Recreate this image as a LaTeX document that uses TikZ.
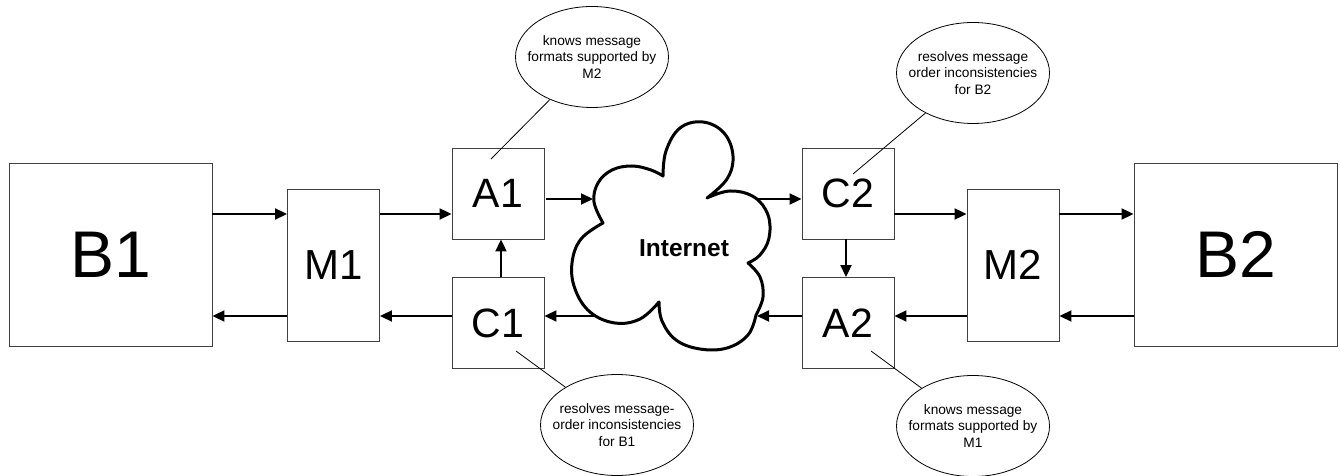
\documentclass[tikz,border=0pt]{standalone}
\usepackage{fontspec}
\setmainfont{Liberation Sans}
\usetikzlibrary{arrows.meta,shapes.geometric}
\begin{document}
\begin{tikzpicture}[x=1pt,y=1pt,
  box/.style={draw=black!75, line width=0.9pt, inner sep=0pt},
  small/.style={box, minimum width=92pt, minimum height=91pt, font=\fontsize{41}{41}\selectfont},
  mid/.style={box, minimum width=92pt, minimum height=152pt, font=\fontsize{42}{42}\selectfont},
  big/.style={box, minimum width=203pt, minimum height=183pt, font=\fontsize{66}{66}\selectfont},
  arr/.style={line width=2pt, -{Triangle[length=12pt,width=11pt]}},
  note/.style={ellipse, draw, line width=0.8pt, minimum width=153pt, minimum height=101pt, inner sep=0pt},
  notetxt/.style={align=center, inner sep=0pt, font=\fontsize{13.7}{16.7}\selectfont},
  lead/.style={line width=0.8pt},
  cloudline/.style={draw, fill=white, line width=3pt, line join=round}]
\useasboundingbox (0,0) rectangle (1340,476);

% boxes
\node[big]   (B1) at (110.5,221.5) {B1};
\node[big]   (B2) at (1235.5,221.5) {B2};
\node[mid]   (M1) at (333.5,211) {M1};
\node[mid]   (M2) at (1013,211) {M2};
\node[small] (A1) at (498,282.5) {A1};
\node[small] (C1) at (498,153) {C1};
\node[small] (C2) at (848,282.5) {C2};
\node[small] (A2) at (848,153) {A2};

% rows and columns
\coordinate (ru) at (0,262);
\coordinate (rl) at (0,160);
\coordinate (ra) at (0,277);
\coordinate (va) at (501,0);
\coordinate (vc) at (846,0);
% cloud contact points
\coordinate (ci1) at (593,277);
\coordinate (co2) at (755,277);
\coordinate (ci2) at (757,160);
\coordinate (co1) at (601,160);

% arrows
\draw[arr] (B1.east |- ru) -- (M1.west |- ru);
\draw[arr] (M1.east |- ru) -- (A1.west |- ru);
\draw[arr] ([xshift=2pt]A1.east |- ra) -- (ci1);
\draw[arr] (co2) -- (C2.west |- ra);
\draw[arr] (C2.east |- ru) -- (M2.west |- ru);
\draw[arr] (M2.east |- ru) -- (B2.west |- ru);
\draw[arr] (B2.west |- rl) -- (M2.east |- rl);
\draw[arr] (M2.west |- rl) -- (A2.east |- rl);
\draw[arr] (A2.west |- rl) -- (ci2);
\draw[arr] (co1) -- (C1.east |- rl);
\draw[arr] (C1.west |- rl) -- (M1.east |- rl);
\draw[arr] (M1.west |- rl) -- (B1.east |- rl);
\draw[arr] (C1.north -| va) -- (A1.south -| va);
\draw[arr] (C2.south -| vc) -- (A2.north -| vc);

% cloud
\path[cloudline]
  plot[smooth,tension=0.65] coordinates {(603,253) (594,274) (598,293) (612,306) (632,310) (651,306) (663,300)}
  -- plot[smooth,tension=0.65] coordinates {(663,300) (666,325) (680,348) (703,354) (724,343) (733,320) (727,297) (707,278)}
  -- plot[smooth,tension=0.65] coordinates {(707,278) (730,285) (754,279) (768,261) (769,238) (760,221) (748,213)}
  -- plot[smooth,tension=0.65] coordinates {(748,213) (760,199) (763,179) (756,161)}
  -- plot[smooth,tension=0.65] coordinates {(756,161) (748,141) (727,128) (700,127) (676,136) (662,155) (659,174)}
  -- plot[smooth,tension=0.65] coordinates {(659,174) (640,157) (615,153) (590,164) (575,187) (572,213) (581,237) (603,253)}
  -- cycle;
\node[font=\bfseries\fontsize{24.5}{24.5}\selectfont] (net) at (684,228) {Internet};

% notes
\node[note] (e1) at (592,419) {};
\node[notetxt] at (e1) {knows message\\formats supported by\\M2};
\node[note] (e2) at (973,403) {};
\node[notetxt] at (e2) {resolves message\\order inconsistencies\\for B2};
\node[note] (e3) at (617,51) {};
\node[notetxt] at (e3) {resolves message-\\order inconsistencies\\for B1};
\node[note] (e4) at (973,50) {};
\node[notetxt] at (e4) {knows message\\formats supported by\\M1};

\coordinate (l1) at (491,317);
\coordinate (l2) at (853,302);
\coordinate (l3) at (516,125);
\coordinate (l4) at (871,125);
\draw[lead] (l1) -- (e1);
\draw[lead] (l2) -- (e2);
\draw[lead] (l3) -- (e3);
\draw[lead] (l4) -- (e4);
\end{tikzpicture}
\end{document}
